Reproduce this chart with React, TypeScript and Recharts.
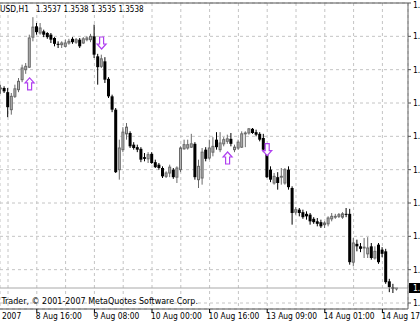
import React from 'react';
import { ComposedChart, Bar, Scatter, XAxis, YAxis, CartesianGrid, ReferenceLine } from 'recharts';

const FONT = "'DejaVu Sans Condensed', 'DejaVu Sans', sans-serif";
const ARROW = '#b040f0';

// EURUSD H1, first visible bar = 8 Aug 2007 06:00
const opens = [
  1.3777, 1.3778, 1.3773, 1.3752, 1.3768, 1.3776, 1.3788, 1.3800, 1.3803, 1.3839,
  1.3852, 1.3844, 1.3846, 1.3844, 1.3842, 1.3838, 1.3831, 1.3830, 1.3828, 1.3832,
  1.3837, 1.3833, 1.3836, 1.3832, 1.3836, 1.3836, 1.3840, 1.3816, 1.3804, 1.3810,
  1.3789, 1.3768, 1.3752, 1.3680, 1.3704, 1.3723, 1.3724, 1.3710, 1.3707, 1.3705,
  1.3695, 1.3693, 1.3699, 1.3689, 1.3686, 1.3682, 1.3672, 1.3676, 1.3680, 1.3671,
  1.3680, 1.3705, 1.3706, 1.3707, 1.3711, 1.3668, 1.3670, 1.3704, 1.3694, 1.3701,
  1.3716, 1.3704, 1.3711, 1.3714, 1.3717, 1.3704, 1.3706, 1.3707, 1.3723, 1.3724,
  1.3729, 1.3725, 1.3723, 1.3718, 1.3704, 1.3680, 1.3664, 1.3671, 1.3671, 1.3664,
  1.3680, 1.3658, 1.3629, 1.3632, 1.3629, 1.3627, 1.3626, 1.3621, 1.3618, 1.3617,
  1.3614, 1.3615, 1.3621, 1.3623, 1.3624, 1.3623, 1.3627, 1.3627, 1.3569, 1.3591,
  1.3588, 1.3586, 1.3579, 1.3588, 1.3574, 1.3590, 1.3584, 1.3582, 1.3546, 1.3539,
  1.3537,
];
const highs = [
  1.3782, 1.3780, 1.3778, 1.3772, 1.3782, 1.3790, 1.3806, 1.3808, 1.3842, 1.3863,
  1.3856, 1.3856, 1.3848, 1.3845, 1.3844, 1.3839, 1.3834, 1.3834, 1.3836, 1.3837,
  1.3839, 1.3838, 1.3838, 1.3839, 1.3840, 1.3843, 1.3854, 1.3819, 1.3818, 1.3815,
  1.3791, 1.3770, 1.3754, 1.3716, 1.3731, 1.3736, 1.3726, 1.3713, 1.3710, 1.3707,
  1.3700, 1.3701, 1.3701, 1.3692, 1.3688, 1.3684, 1.3678, 1.3686, 1.3682, 1.3684,
  1.3708, 1.3716, 1.3716, 1.3723, 1.3713, 1.3692, 1.3706, 1.3707, 1.3716, 1.3719,
  1.3725, 1.3725, 1.3719, 1.3722, 1.3724, 1.3710, 1.3716, 1.3726, 1.3726, 1.3730,
  1.3730, 1.3728, 1.3725, 1.3723, 1.3708, 1.3684, 1.3676, 1.3677, 1.3682, 1.3682,
  1.3684, 1.3660, 1.3635, 1.3634, 1.3632, 1.3630, 1.3628, 1.3623, 1.3622, 1.3620,
  1.3618, 1.3624, 1.3628, 1.3627, 1.3628, 1.3629, 1.3634, 1.3633, 1.3598, 1.3596,
  1.3592, 1.3598, 1.3599, 1.3592, 1.3588, 1.3592, 1.3587, 1.3585, 1.3549, 1.3543,
  1.3538,
];
const lows = [
  1.3771, 1.3772, 1.3743, 1.3746, 1.3766, 1.3773, 1.3785, 1.3795, 1.3802, 1.3834,
  1.3842, 1.3842, 1.3839, 1.3837, 1.3832, 1.3828, 1.3826, 1.3826, 1.3827, 1.3830,
  1.3831, 1.3831, 1.3826, 1.3831, 1.3834, 1.3833, 1.3814, 1.3782, 1.3802, 1.3784,
  1.3766, 1.3749, 1.3676, 1.3668, 1.3701, 1.3716, 1.3706, 1.3704, 1.3701, 1.3689,
  1.3690, 1.3688, 1.3687, 1.3682, 1.3680, 1.3670, 1.3670, 1.3671, 1.3669, 1.3664,
  1.3677, 1.3704, 1.3704, 1.3706, 1.3668, 1.3658, 1.3662, 1.3690, 1.3692, 1.3696,
  1.3704, 1.3701, 1.3708, 1.3711, 1.3708, 1.3701, 1.3704, 1.3706, 1.3707, 1.3722,
  1.3723, 1.3720, 1.3714, 1.3701, 1.3670, 1.3665, 1.3662, 1.3656, 1.3662, 1.3662,
  1.3656, 1.3614, 1.3626, 1.3624, 1.3621, 1.3620, 1.3614, 1.3615, 1.3612, 1.3610,
  1.3610, 1.3612, 1.3618, 1.3621, 1.3622, 1.3621, 1.3623, 1.3566, 1.3564, 1.3582,
  1.3581, 1.3574, 1.3574, 1.3572, 1.3572, 1.3567, 1.3575, 1.3543, 1.3533, 1.3532,
  1.3535,
];
const closes = [
  1.3778, 1.3774, 1.3755, 1.3768, 1.3777, 1.3786, 1.3802, 1.3804, 1.3838, 1.3851,
  1.3845, 1.3850, 1.3842, 1.3839, 1.3836, 1.3831, 1.3830, 1.3832, 1.3832, 1.3834,
  1.3833, 1.3836, 1.3828, 1.3837, 1.3838, 1.3840, 1.3818, 1.3803, 1.3813, 1.3788,
  1.3768, 1.3752, 1.3677, 1.3706, 1.3725, 1.3731, 1.3708, 1.3706, 1.3704, 1.3692,
  1.3693, 1.3698, 1.3688, 1.3683, 1.3682, 1.3672, 1.3676, 1.3683, 1.3671, 1.3682,
  1.3706, 1.3710, 1.3710, 1.3711, 1.3671, 1.3684, 1.3701, 1.3693, 1.3706, 1.3708,
  1.3707, 1.3712, 1.3716, 1.3717, 1.3711, 1.3707, 1.3713, 1.3723, 1.3724, 1.3729,
  1.3724, 1.3722, 1.3716, 1.3704, 1.3671, 1.3668, 1.3672, 1.3664, 1.3672, 1.3680,
  1.3659, 1.3628, 1.3632, 1.3628, 1.3623, 1.3624, 1.3618, 1.3617, 1.3615, 1.3612,
  1.3616, 1.3622, 1.3624, 1.3624, 1.3626, 1.3627, 1.3626, 1.3569, 1.3592, 1.3588,
  1.3585, 1.3587, 1.3586, 1.3574, 1.3582, 1.3569, 1.3579, 1.3545, 1.3539, 1.3537,
  1.3538,
];

// grid every 8 bars, time label every 16 (the last one is cut by the window in the original)
const gridBars = [2, 10, 18, 26, 34, 42, 50, 58, 66, 74, 82, 90, 98, 106];
const timeLabels = [
  { bar: 10, text: '8 Aug 16:00' },
  { bar: 26, text: '9 Aug 08:00' },
  { bar: 42, text: '10 Aug 00:00' },
  { bar: 58, text: '10 Aug 16:00' },
  { bar: 74, text: '13 Aug 09:00' },
  { bar: 90, text: '14 Aug 01:00' },
  { bar: 106, text: '14 Aug 17' },
];
const priceTicks = [1.352, 1.356, 1.36, 1.364, 1.368, 1.372, 1.376, 1.38, 1.384, 1.388];
const upSignals = [
  { bar: 8, price: 1.3783 },
  { bar: 63, price: 1.3694 },
];
const downSignals = [
  { bar: 28, price: 1.3832 },
  { bar: 74, price: 1.3704 },
];

const candles = opens.map((o, i) => ({
  bar: i,
  open: o,
  high: highs[i],
  low: lows[i],
  close: closes[i],
}));
const last = candles[candles.length - 1];

// only "1." of each price fits before the window edge
const shortPrice = (v: number) => v.toFixed(4).slice(0, 2);

function Candle(props: any) {
  const { x, y, width, height, payload } = props;
  if (x == null || payload == null) return <g />;
  const top = Math.min(y, y + height);
  const h = Math.abs(height);
  const { open, high, low, close } = payload;
  const span = high - low || 1;
  const py = (p: number) => top + ((high - p) / span) * h;
  const cx = x + width / 2;
  const bull = close >= open;
  const bTop = py(Math.max(open, close));
  const bBot = py(Math.min(open, close));
  if (bull) {
    return (
      <g>
        <line x1={cx} x2={cx} y1={top} y2={top + h} stroke="#6a6a6a" />
        <rect x={cx - 1} y={bTop} width={2} height={Math.max(bBot - bTop, 0.5)} fill="#b4b4b4" stroke="#6a6a6a" />
      </g>
    );
  }
  return (
    <g>
      <line x1={cx} x2={cx} y1={top} y2={top + h} stroke="#000" />
      <rect x={cx - 1.5} y={bTop} width={3} height={Math.max(bBot - bTop, 1)} fill="#000" />
    </g>
  );
}

const arrowPts = [[0, -6], [4.5, -1], [2, -1], [2, 6], [-2, 6], [-2, -1], [-4.5, -1]];

function Arrow({ cx, cy, dir }: any) {
  if (cx == null || cy == null) return <g />;
  const pts = arrowPts.map(([dx, dy]) => `${cx + dx},${cy + dy * dir}`).join(' ');
  return <polygon points={pts} fill="#fff" stroke={ARROW} strokeWidth={1.2} />;
}

function TimeTick(props: any) {
  const { x, y, payload } = props;
  const lab = timeLabels.find((t) => t.bar === payload.value);
  if (!lab) return <g />;
  return (
    <g>
      <line x1={x} x2={x} y1={y} y2={y + 4} stroke="#000" />
      <text x={x - 1} y={y + 9.5} fontSize={8.4} fontFamily={FONT} fill="#000">
        {lab.text}
      </text>
    </g>
  );
}

function PriceTick(props: any) {
  const { x, y, payload } = props;
  return (
    <g>
      <line x1={x} x2={x + 3} y1={y} y2={y} stroke="#555" />
      <text x={x + 5} y={Math.max(y + 3, 7.5)} fontSize={8.5} fontFamily={FONT} fill="#000">
        {shortPrice(payload.value)}
      </text>
    </g>
  );
}

function BidLabel(props: any) {
  const vb = props.viewBox || {};
  const right = vb.x + vb.width;
  return (
    <g>
      <rect x={right + 1} y={vb.y - 5} width={12} height={10} fill="#000" />
      <text x={right + 5} y={vb.y + 3} fontSize={8.5} fontFamily={FONT} fill="#fff">
        {shortPrice(last.close)}
      </text>
    </g>
  );
}

export default function App() {
  const ohlc = [last.open, last.high, last.low, last.close].map((v) => v.toFixed(4)).join(' ');
  return (
    <div style={{ position: 'absolute', left: 0, top: 0, width: 420, height: 323, background: '#fff' }}>
      <ComposedChart width={420} height={323} data={candles} margin={{ top: 3, right: 0, bottom: 0, left: 0 }}>
        <CartesianGrid stroke="#c4c4c4" strokeDasharray="3 3" />
        <XAxis
          dataKey="bar"
          type="number"
          domain={[-2 / 9, 113.111]}
          allowDataOverflow
          ticks={gridBars}
          interval={0}
          height={14}
          tickSize={0}
          tickMargin={0}
          tickLine={false}
          axisLine={{ stroke: '#555' }}
          tick={<TimeTick />}
        />
        <YAxis
          orientation="right"
          type="number"
          domain={[1.35128, 1.388]}
          allowDataOverflow
          ticks={priceTicks}
          interval={0}
          width={12}
          tickSize={0}
          tickMargin={0}
          tickLine={false}
          axisLine={{ stroke: '#666' }}
          tick={<PriceTick />}
        />
        <ReferenceLine y={priceTicks[priceTicks.length - 1]} stroke="#555" />
        <ReferenceLine y={last.close} stroke="#a8a8a8" label={<BidLabel />} />
        <Bar
          dataKey={(d: any) => [d.low, d.high]}
          barSize={3}
          shape={(p: any) => <Candle {...p} />}
          isAnimationActive={false}
        />
        <Scatter data={upSignals} dataKey="price" shape={(p: any) => <Arrow {...p} dir={1} />} isAnimationActive={false} />
        <Scatter data={downSignals} dataKey="price" shape={(p: any) => <Arrow {...p} dir={-1} />} isAnimationActive={false} />
      </ComposedChart>
      <svg width={420} height={323} style={{ position: 'absolute', left: 0, top: 0, pointerEvents: 'none' }}>
        <text x={0} y={12} fontSize={8.4} fontFamily={FONT} fill="#000">
          USD,H1
        </text>
        <text x={36} y={12} fontSize={8} fontFamily={FONT} fill="#000">
          {ohlc}
        </text>
        <text x={1.5} y={303.5} fontSize={8.9} fontFamily={FONT} fill="#000">
          Trader, © 2001-2007 MetaQuotes Software Corp.
        </text>
        <text x={2} y={318.5} fontSize={8.4} fontFamily={FONT} fill="#000">
          2007
        </text>
      </svg>
    </div>
  );
}
